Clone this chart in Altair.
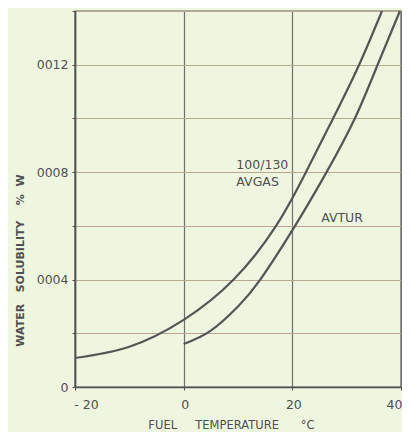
import altair as alt
import pandas as pd

# Fuel temperature (°C) and water solubility (% w)
avgas_temp = [-20, -10, 0, 9.2, 17, 22.5, 27.5, 32.3, 36.5]
avgas_sol = [0.000108, 0.00015, 0.00025, 0.0004, 0.0006, 0.0008, 0.0010, 0.0012, 0.0014]
avtur_temp = [0, 5, 10, 14.1, 20.5, 26.3, 31.5, 35.7, 39.8]
avtur_sol = [0.00016, 0.00021, 0.0003, 0.0004, 0.0006, 0.0008, 0.0010, 0.0012, 0.0014]

x_ticks = [-20, 0, 20, 40]
x_tick_labels = ["- 20", "0", "20", "40"]
y_ticks = [0, 0.0002, 0.0004, 0.0006, 0.0008, 0.0010, 0.0012, 0.0014]
y_tick_labels = ["0", "", "0004", "", "0008", "", "0012", ""]

label_text = ["100/130", "AVGAS", "AVTUR"]
label_temp = [9.7, 9.7, 25.3]
label_sol = [0.000826, 0.000763, 0.000629]

rows = []
for t, s in zip(avgas_temp, avgas_sol):
    rows.append({"temp": t, "sol": s, "fuel": "AVGAS"})
for t, s in zip(avtur_temp, avtur_sol):
    rows.append({"temp": t, "sol": s, "fuel": "AVTUR"})
df = pd.DataFrame(rows)
labels = pd.DataFrame({"text": label_text, "temp": label_temp, "sol": label_sol})

def label_expr(values, texts):
    parts = []
    for v, t in zip(values, texts):
        parts.append(f"abs(datum.value - ({v})) < 1e-9 ? '{t}' : ")
    return "".join(parts) + "''"

FONT = "DejaVu Sans"
INK = "#505050"
NB = "\u00a0"

x_scale = alt.Scale(domain=[-20, 40], nice=False, zero=False)
y_scale = alt.Scale(domain=[0, 0.0014], nice=False)

x_axis = alt.Axis(
    values=x_ticks,
    labelExpr=label_expr(x_ticks, x_tick_labels),
    labelOffset={"condition": {"test": "datum.value == -20", "value": 11}, "value": 1},
    labelAlign={"condition": {"test": "datum.value == 40", "value": "right"}, "value": "center"},
    grid=True, gridColor="#707070", gridWidth=1.2,
    domainColor=INK, domainWidth=1.6,
    tickColor=INK, tickSize=3, labelPadding=8,
    labelFont=FONT, labelFontSize=12.5, labelColor=INK,
    title=f"FUEL{NB*5}TEMPERATURE{NB*6}°C",
    titleFont=FONT, titleFontSize=11.5, titleFontWeight="normal", titleColor=INK,
    titleX=156, titleY=38, titleBaseline="middle",
)
y_axis = alt.Axis(
    values=y_ticks,
    labelExpr=label_expr(y_ticks, y_tick_labels),
    grid=True, gridColor="#b8a98e", gridWidth=1.2,
    domainColor=INK, domainWidth=1.6,
    tickColor=INK, tickSize=3, labelPadding=4,
    labelFont=FONT, labelFontSize=12.5, labelColor=INK,
    title=f"WATER{NB*3}SOLUBILITY{NB*4}%{NB*2}W",
    titleFont=FONT, titleFontSize=11, titleFontWeight="bold", titleColor=INK,
    titleX=-55, titleY=249, titleBaseline="middle", titleAlign="center", titleAngle=-90,
)

lines = alt.Chart(df).mark_line(
    color="#555555", strokeWidth=2.2, interpolate="natural"
).encode(
    x=alt.X("temp:Q", scale=x_scale, axis=x_axis),
    y=alt.Y("sol:Q", scale=y_scale, axis=y_axis),
    detail="fuel:N",
)

texts = alt.Chart(labels).mark_text(
    align="left", baseline="middle", font=FONT, fontSize=12.5, color=INK
).encode(
    x=alt.X("temp:Q", scale=x_scale),
    y=alt.Y("sol:Q", scale=y_scale),
    text="text:N",
)

chart = alt.layer(lines, texts).properties(
    width=326, height=376,
    autosize=alt.AutoSizeParams(type="none"),
    padding={"left": 67, "top": 3, "right": 1, "bottom": 45},
    background="#eef6e0",
).configure_view(stroke="#606060", strokeWidth=1.4)

chart.save("out.html", embed_options={"renderer": "svg", "actions": False})
